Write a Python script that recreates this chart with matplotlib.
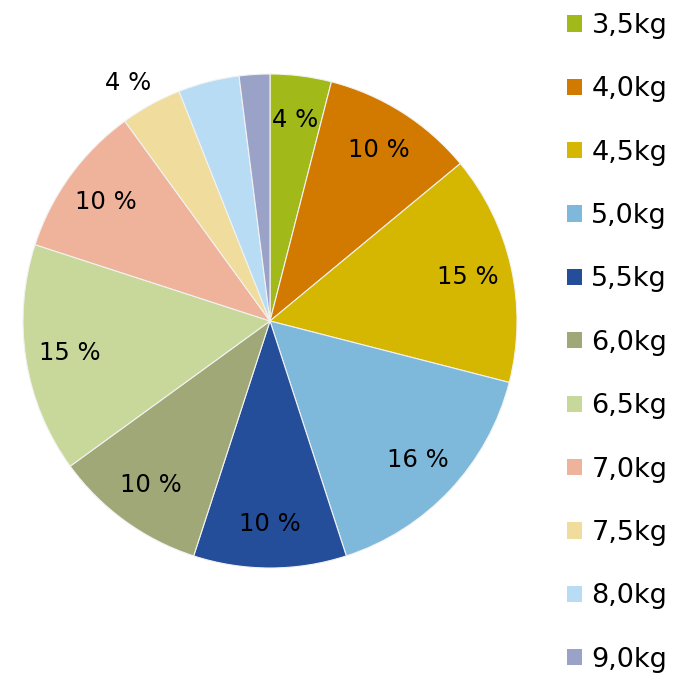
import matplotlib
matplotlib.use("Agg")
import matplotlib.pyplot as plt
from matplotlib.patches import Patch
import numpy as np

# weight classes and their share in percent
weights = ["3,5kg", "4,0kg", "4,5kg", "5,0kg", "5,5kg", "6,0kg",
           "6,5kg", "7,0kg", "7,5kg", "8,0kg", "9,0kg"]
shares = [4, 10, 15, 16, 10, 10, 15, 10, 4, 4, 2]
shown = [True, True, True, True, True, True, True, True, True, False, False]
colors = ["#A2B91A", "#D27A00", "#D5B600", "#7EB9DC", "#244E9A", "#A0A878",
          "#C8D89A", "#EEB39A", "#F0DC9C", "#B8DCF4", "#9AA2C8"]

plt.rcParams["font.family"] = ["DejaVu Sans"]

fig = plt.figure(figsize=(6.8, 6.74), dpi=100)
ax = fig.add_axes([23 / 680, 106 / 674, 494 / 680, 494 / 674])

wedges, _ = ax.pie(shares, colors=colors, startangle=90, counterclock=False,
                   radius=1.0, wedgeprops=dict(edgecolor="#f2f2f2", linewidth=0.8))
ax.set_xlim(-1, 1)
ax.set_ylim(-1, 1)
ax.set_aspect("equal")
ax.axis("off")

for w, s, show, name in zip(wedges, shares, shown, weights):
    if not show:
        continue
    ang = np.deg2rad((w.theta1 + w.theta2) / 2)
    if name == "7,5kg":
        ang += np.deg2rad(2)
        r = 1.12
    else:
        r = 0.82
    ax.text(r * np.cos(ang), r * np.sin(ang), f"{s} %", ha="center", va="center",
            fontsize=17.5, color="black")

handles = [Patch(facecolor=c, edgecolor="none") for c in colors]
fig.legend(handles, weights, loc="upper left", bbox_to_anchor=(567 / 680, 1 - 13 / 674),
           frameon=False, fontsize=19.5, labelspacing=1.38, handlelength=0.55,
           handleheight=0.55, handletextpad=0.35, borderaxespad=0, borderpad=0)

fig.savefig("out.png", dpi=100)
